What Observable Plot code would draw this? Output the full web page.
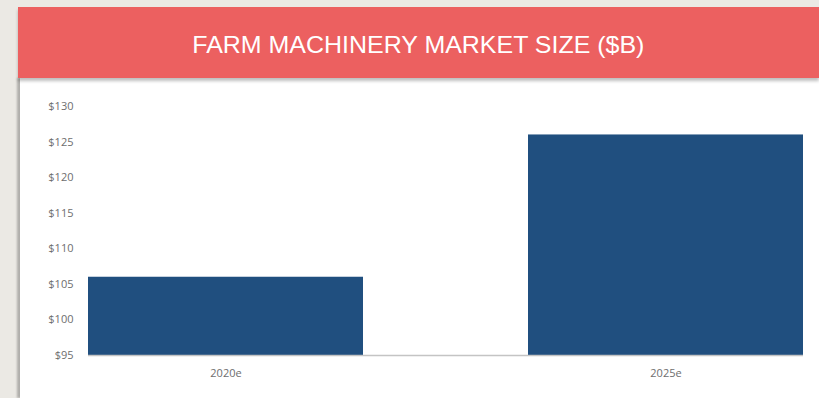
<!DOCTYPE html>
<html>
<head>
<meta charset="utf-8">
<script src="https://cdn.jsdelivr.net/npm/d3@7"></script>
<script src="https://cdn.jsdelivr.net/npm/@observablehq/plot@0.6"></script>
<style>
  html, body { margin: 0; padding: 0; }
  body { width: 819px; height: 398px; background: #ebe9e4; position: relative; overflow: hidden; }
  #banner {
    position: absolute; left: 18px; top: 7px; width: 801px; height: 71px;
    background: #ec6060; color: #fff;
    font-family: "Liberation Sans Narrow", "Liberation Sans", sans-serif;
    font-size: 24px; display: flex; align-items: center; justify-content: center;
    box-shadow: 0 3px 3px rgba(0,0,0,0.25); z-index: 2;
  }
  #banner span { display: inline-block; transform: translateY(2px) scaleX(1.04); }
  #panel {
    position: absolute; left: 20px; top: 78px; width: 799px; height: 320px;
    background: #fff; box-shadow: -3px 0 2px rgba(0,0,0,0.25);
  }
  #panel svg { display: block; }
</style>
</head>
<body>
<div id="banner"><span>FARM MACHINERY MARKET SIZE ($B)</span></div>
<div id="panel"></div>
<script>
const categories = ["2020e", "2025e"];
const values = [106, 126];
const yTicks = [95, 100, 105, 110, 115, 120, 125, 130];

const yMin = d3.min(yTicks);
const data = categories.map((c, i) => ({category: c, value: values[i]}));

const chart = Plot.plot({
  width: 799,
  height: 320,
  marginTop: 28,
  marginBottom: 43,
  marginLeft: 68,
  marginRight: 16,
  style: {fontFamily: "'Open Sans', 'Liberation Sans', sans-serif", fontSize: "11px", color: "#6e6e6e", background: "#fff"},
  x: {domain: categories, paddingInner: 0.376, paddingOuter: 0, label: null, tickSize: 0, tickPadding: 14},
  y: {domain: [yMin, d3.max(yTicks)], ticks: yTicks, tickFormat: d => "$" + d, label: null, tickSize: 0, tickPadding: 15},
  marks: [
    Plot.barY(data, {x: "category", y1: () => yMin, y2: "value", fill: "#204f7f"}),
    Plot.ruleY([yMin], {stroke: "#c4c4c4", strokeWidth: 1.5})
  ]
});
document.getElementById("panel").appendChild(chart);
</script>
</body>
</html>
